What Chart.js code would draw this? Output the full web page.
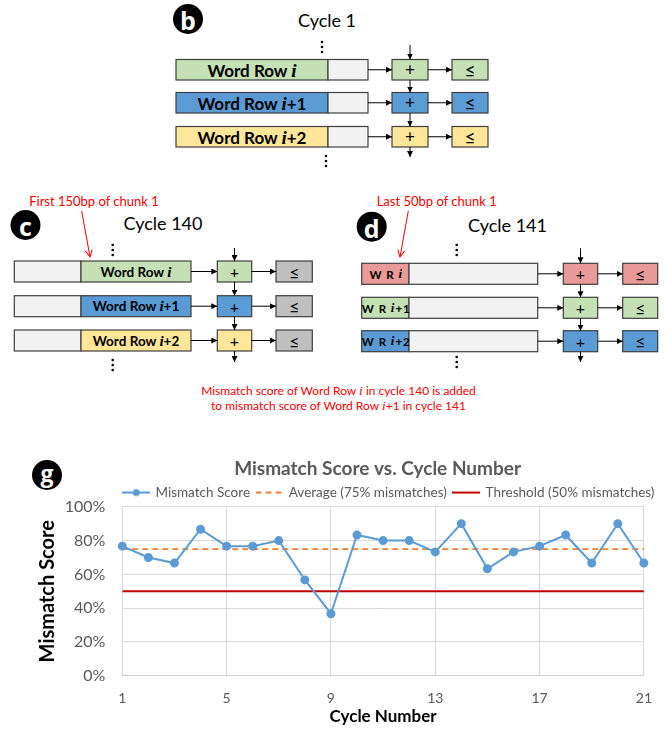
<!DOCTYPE html>
<html>
<head>
<meta charset="utf-8">
<script src="https://cdn.jsdelivr.net/npm/chart.js@4.4.1/dist/chart.umd.min.js"></script>
<style>
html, body { margin: 0; padding: 0; width: 666px; height: 729px; overflow: hidden; background: #fff; }
#diagram { position: absolute; left: 0; top: 0; }
#chartBox { position: absolute; left: 0; top: 448px; width: 666px; height: 281px; }
</style>
</head>
<body>
<svg id="diagram" width="666" height="729" xmlns="http://www.w3.org/2000/svg">
  <defs>
    <marker id="ah" markerWidth="6" markerHeight="6" refX="6" refY="3" orient="auto" markerUnits="userSpaceOnUse">
      <path d="M0,0 L6,3 L0,6 z" fill="#000"/>
    </marker>
    <marker id="rh" markerWidth="8" markerHeight="8" refX="7" refY="4" orient="auto" markerUnits="userSpaceOnUse">
      <path d="M0,0.5 L7,4 L0,7.5" fill="none" stroke="#f00" stroke-width="1"/>
    </marker>
  </defs>
</svg>
<div id="chartBox"><canvas id="chart"></canvas></div>
<script>
// chart values
const cycles = [1, 2, 3, 4, 5, 6, 7, 8, 9, 10, 11, 12, 13, 14, 15, 16, 17, 18, 19, 20, 21];
const mismatchScore = [76.7, 70, 66.7, 86.7, 76.7, 76.7, 80, 56.7, 36.7, 83.3, 80, 80, 73.3, 90, 63.3, 73.3, 76.7, 83.3, 66.7, 90, 66.7];
const averageLevel = 75;
const thresholdLevel = 50;
const seriesNames = ['Mismatch Score', 'Average (75% mismatches)', 'Threshold (50% mismatches)'];
const xTickValues = [1, 5, 9, 13, 17, 21];
const yTickValues = [0, 20, 40, 60, 80, 100];

const BLUE_LINE = '#5b9bd5', ORANGE = '#ed7d31', RED = '#c00000';

// ---------- diagram (panels b, c, d) ----------
const svgNS = 'http://www.w3.org/2000/svg';
const svg = document.getElementById('diagram');
const GREEN = '#c5e0b4', BLUE = '#5b9bd5', YELLOW = '#ffe699', LIGHT = '#f2f2f2', PINK = '#ea9999', GREY = '#bfbfbf';

function el(tag, attrs, text, parent) {
  const e = document.createElementNS(svgNS, tag);
  for (const k in attrs) e.setAttribute(k, attrs[k]);
  if (text != null) e.textContent = text;
  (parent || svg).appendChild(e);
  return e;
}
function box(x, y, w, h, fill) {
  el('rect', {x, y, width: w, height: h, fill, stroke: '#3f3f3f', 'stroke-width': 1.2});
}
function arrow(x1, y1, x2, y2) {
  el('line', {x1, y1, x2, y2, stroke: '#000', 'stroke-width': 1, 'marker-end': 'url(#ah)'});
}
function redArrow(x1, y1, x2, y2) {
  el('line', {x1, y1, x2, y2, stroke: '#f00', 'stroke-width': 1, 'marker-end': 'url(#rh)'});
}
function dots(x, y) {
  for (let k = 0; k < 3; k++) el('circle', {cx: x, cy: y + k * 5, r: 1.3, fill: '#000'});
}
function badge(cx, cy, letter, size, dy) {
  el('circle', {cx, cy, r: 15, fill: '#000'});
  el('text', {x: cx, y: cy + dy, 'text-anchor': 'middle', 'dominant-baseline': 'central', fill: '#fff',
    'font-family': 'Open Sans', 'font-weight': 700, 'font-size': size}, letter);
}
function plain(x, y, str, size, color) {
  el('text', {x, y, 'text-anchor': 'middle', 'dominant-baseline': 'central', fill: color || '#000',
    'font-family': 'Lato', 'font-size': size}, str);
}
// parts: [text, italic]
function rich(x, y, parts, size, weight, color, spacing) {
  const t = el('text', {x, y, 'text-anchor': 'middle', 'dominant-baseline': 'central', fill: color,
    'font-family': 'Lato', 'font-weight': weight, 'font-size': size});
  if (spacing) t.setAttribute('letter-spacing', spacing);
  parts.forEach(([s, it]) => {
    const a = it ? {'font-family': 'Liberation Serif', 'font-style': 'italic', 'font-size': size * 1.12} : {};
    el('tspan', a, s, t);
  });
}
function column(x, segs) { segs.forEach(([a, b]) => arrow(x, a, x, b)); }

const suffix = ['', '+1', '+2'];

// panel b
const bFill = [GREEN, BLUE, YELLOW];
badge(188, 19, 'b', 25, 1);
plain(327, 20, 'Cycle 1', 18);
dots(322, 42);
[59.5, 92.5, 126.5].forEach((y, r) => {
  const h = 20.5, cy = y + h / 2;
  box(176, y, 152, h, bFill[r]); box(328, y, 40, h, LIGHT);
  box(392, y, 36, h, bFill[r]); box(452, y, 36, h, bFill[r]);
  arrow(368, cy, 392, cy); arrow(428, cy, 452, cy);
  rich(252, cy, [['Word Row '], ['i', true], [suffix[r]]], 17, 700, '#000');
  plain(410, cy, '+', 17); plain(470, cy, '\u2264', 19);
});
column(410, [[45, 59.5], [80, 92.5], [113, 126.5], [147, 157]]);
dots(326, 156);

// panel c
badge(25.5, 225, 'c', 25, 1);
plain(163, 223, 'Cycle 140', 18);
plain(94, 201, 'First 150bp of chunk 1', 13, '#f00');
redArrow(81.7, 211, 90, 257);
dots(112.7, 245);
[261, 295.7, 330].forEach((y, r) => {
  const h = 21, cy = y + h / 2;
  box(14.3, y, 66.7, h, LIGHT); box(81, y, 110, h, bFill[r]);
  box(217.3, y, 34.4, h, bFill[r]); box(276, y, 36.3, h, GREY);
  arrow(191, cy, 217.3, cy); arrow(251.7, cy, 276, cy);
  rich(136, cy, [['Word Row '], ['i', true], [suffix[r]]], 13.5, 700, '#000');
  plain(234.5, cy, '+', 16); plain(294.2, cy, '\u2264', 18);
});
column(234.5, [[248, 261], [282, 295.7], [316.7, 330], [351, 362]]);
dots(112.7, 360);

// panel d
const dFill = [PINK, GREEN, BLUE];
badge(371.7, 226.7, 'd', 25, 1);
plain(507.5, 225, 'Cycle 141', 18);
plain(436.7, 201, 'Last 50bp of chunk 1', 13, '#f00');
redArrow(408.3, 211, 400, 257);
dots(456.7, 245);
[263.3, 297.3, 330.7].forEach((y, r) => {
  const h = 21, cy = y + h / 2;
  box(361.7, y, 47.3, h, dFill[r]); box(409, y, 128.7, h, LIGHT);
  box(563.3, y, 34.4, h, dFill[r]); box(622.7, y, 35, h, dFill[r]);
  arrow(537.7, cy, 563.3, cy); arrow(597.7, cy, 622.7, cy);
  rich(386.3, cy, [['W R '], ['i', true], [suffix[r]]], 11.5, 700, '#000', 1);
  plain(580.5, cy, '+', 16); plain(640.2, cy, '\u2264', 18);
});
column(580.5, [[248.3, 263.3], [284.3, 297.3], [318.3, 330.7], [351.7, 362]]);
dots(456.7, 357);

rich(338.5, 390, [['Mismatch score of Word Row '], ['i', true], [' in cycle 140 is added']], 12, 400, '#f00');
rich(338.5, 404.5, [['to mismatch score of Word Row '], ['i', true], ['+1 in cycle 141']], 12, 400, '#f00');

badge(47, 475, 'g', 23, -2);

// ---------- chart (panel g) ----------
Chart.defaults.font.family = "Lato, sans-serif";
Chart.defaults.color = '#595959';

function legendMark(kind) {
  const c = document.createElement('canvas');
  c.width = 28; c.height = 10;
  const g = c.getContext('2d');
  g.lineWidth = 2;
  g.beginPath(); g.moveTo(0, 5); g.lineTo(28, 5);
  if (kind === 0) {
    g.strokeStyle = BLUE_LINE; g.stroke();
    g.fillStyle = BLUE_LINE; g.beginPath(); g.arc(14, 5, 3.5, 0, Math.PI * 2); g.fill();
  } else if (kind === 1) {
    g.setLineDash([6, 4]); g.strokeStyle = ORANGE; g.stroke();
  } else {
    g.strokeStyle = RED; g.stroke();
  }
  return c;
}
const legendMarks = [0, 1, 2].map(legendMark);

const first = cycles[0], last = cycles[cycles.length - 1];

// Excel centres title and legend a little right of the full canvas width
const nudgeBoxes = {
  id: 'nudgeBoxes',
  afterLayout(chart) {
    chart.titleBlock.left -= 11;
    chart.legend.left += 43;
    chart.legend.right += 43;
  },
};

new Chart(document.getElementById('chart'), {
  type: 'line',
  data: {
    datasets: [{
      label: seriesNames[0],
      data: cycles.map((c, i) => ({x: c, y: mismatchScore[i]})),
      borderColor: BLUE_LINE,
      backgroundColor: BLUE_LINE,
      borderWidth: 2,
      pointRadius: 3.5,
      pointHoverRadius: 3.5,
      clip: false,
    }, {
      label: seriesNames[1],
      data: [{x: first, y: averageLevel}, {x: last, y: averageLevel}],
      borderColor: ORANGE,
      borderDash: [6, 4],
      borderWidth: 1.75,
      pointRadius: 0,
    }, {
      label: seriesNames[2],
      data: [{x: first, y: thresholdLevel}, {x: last, y: thresholdLevel}],
      borderColor: RED,
      borderWidth: 2,
      pointRadius: 0,
    }],
  },
  options: {
    responsive: true,
    maintainAspectRatio: false,
    animation: false,
    layout: { padding: { left: 35.5, right: 9.3, top: 0, bottom: 2.1 } },
    plugins: {
      title: {
        display: true,
        text: 'Mismatch Score vs. Cycle Number',
        fullSize: false,
        color: '#595959',
        font: { size: 19, weight: 'bold', lineHeight: 1 },
        padding: { top: 11.8, bottom: 0 },
      },
      legend: {
        maxHeight: 28,
        labels: {
          usePointStyle: true,
          pointStyleWidth: 25,
          padding: 7,
          font: { size: 13.5 },
          generateLabels: chart => chart.data.datasets.map((ds, i) => ({
            text: ds.label,
            pointStyle: legendMarks[i],
            fillStyle: 'rgba(0,0,0,0)',
            strokeStyle: 'rgba(0,0,0,0)',
            lineWidth: 0,
            fontColor: '#595959',
            hidden: false,
            datasetIndex: i,
          })),
        },
      },
      tooltip: { enabled: false },
    },
    scales: {
      x: {
        type: 'linear',
        min: first,
        max: last,
        afterBuildTicks: s => { s.ticks = xTickValues.map(value => ({value})); },
        afterFit: s => { s.height = 51.2; },
        ticks: { padding: 14, font: { size: 14 } },
        grid: { color: '#d9d9d9', drawTicks: false },
        border: { color: '#cfcfcf' },
        title: { display: true, text: 'Cycle Number', color: '#000', font: { size: 17, weight: 'bold' }, padding: 0 },
      },
      y: {
        min: 0,
        max: 100,
        afterBuildTicks: s => { s.ticks = yTickValues.map(value => ({value})); },
        afterFit: s => { s.width = 86.8; },
        ticks: { padding: 17, font: { size: 16 }, callback: v => v + '%' },
        grid: { color: '#d9d9d9', drawTicks: false },
        border: { display: false },
        title: { display: true, text: 'Mismatch Score', color: '#000', font: { size: 20, weight: 'bold' }, padding: 0 },
      },
    },
  },
  plugins: [nudgeBoxes],
});
</script>
</body>
</html>
